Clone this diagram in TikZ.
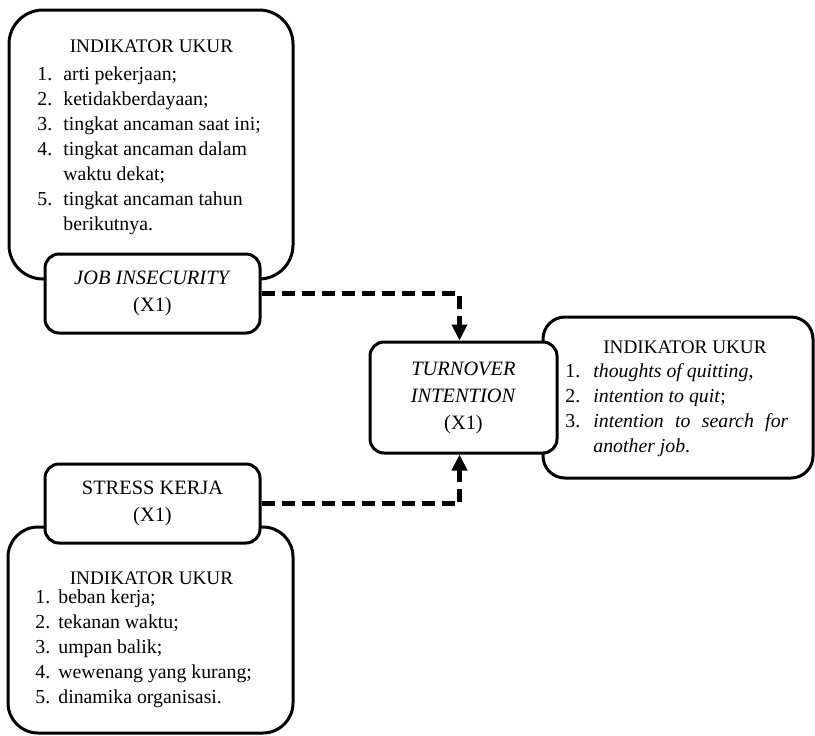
\documentclass[tikz,border=0pt]{standalone}
\usepackage{fontspec}
\setmainfont{Liberation Serif}
\usetikzlibrary{arrows.meta}

\tikzset{
  indikator/.style = {shape=rectangle, draw, line width=1.5pt,
                      fill=white, inner sep=0pt},
  variabel/.style  = {shape=rectangle, rounded corners=7pt,
                      draw, line width=1.5pt, fill=white, align=center,
                      inner sep=0pt, font=\fontsize{10.2}{13.5}\selectfont},
  judul/.style     = {inner sep=0pt, anchor=base,
                      font=\fontsize{9.6}{12.5}\selectfont},
  daftar/.style    = {inner sep=0pt, anchor=base west,
                      font=\fontsize{9.9}{12.5}\selectfont},
  pengaruh/.style  = {draw, line width=2.5pt, dash pattern=on 6.5pt off 3.5pt,
                      -{Triangle[length=8pt,width=7.5pt]}}
}

\begin{document}
\begin{tikzpicture}
[
x=0.5pt, y=-0.5pt
  ]
\useasboundingbox (0,0) rectangle (815,735);

\node[indikator, rounded corners=17pt, minimum width=142pt, minimum height=134.5pt] (ind1) at (151,144.5) {};
\node[indikator, rounded corners=15pt, minimum width=142.5pt, minimum height=103pt] (ind2) at (150.5,630) {};
\node[indikator, rounded corners=11pt, minimum width=135pt, minimum height=80.5pt] (ind3) at (678,397.5) {};

\node[variabel, minimum width=107.5pt, minimum height=39.5pt] (job) at (152.5,293.5)
    {\textit{JOB INSECURITY}\\(X1)};
\node[variabel, minimum width=107.5pt, minimum height=39.5pt] (stress) at (152.5,503.5)
    {STRESS KERJA\\(X1)};
\node[variabel, minimum width=93.5pt, minimum height=55.5pt] (turn) at (463.5,397.5)
    {\textit{TURNOVER}\\\textit{INTENTION}\\(X1)};

\node[judul] (ind1-judul) at (151.5,52.5) {INDIKATOR UKUR};
\node[daftar] (ind1-daftar) at (37,80) {\begin{tabular}[t]{@{}p{13pt}@{}l@{}}
    1. & arti pekerjaan;\\
    2. & ketidakberdayaan;\\
    3. & tingkat ancaman saat ini;\\
    4. & tingkat ancaman dalam\\
       & waktu dekat;\\
    5. & tingkat ancaman tahun\\
       & berikutnya.
  \end{tabular}};

\node[judul] (ind2-judul) at (151.5,584) {INDIKATOR UKUR};
\node[daftar] (ind2-daftar) at (35,603) {\begin{tabular}[t]{@{}p{11.5pt}@{}l@{}}
    1. & beban kerja;\\
    2. & tekanan waktu;\\
    3. & umpan balik;\\
    4. & wewenang yang kurang;\\
    5. & dinamika organisasi.
  \end{tabular}};

\node[judul] (ind3-judul) at (685,353) {INDIKATOR UKUR};
\node[daftar] (ind3-daftar) at (565,377) {\begin{tabular}[t]{@{}p{14pt}@{}p{97.5pt}@{}}
    1. & \textit{thoughts of quitting},\\
    2. & \textit{intention to quit};\\
    3. & \textit{intention to search for}\linebreak \textit{another job}.
  \end{tabular}};

\draw[pengaruh] (job.east) -| ([xshift=-2pt]turn.north);
\draw[pengaruh] (stress.east) -| ([xshift=-2pt]turn.south);
\end{tikzpicture}
\end{document}
